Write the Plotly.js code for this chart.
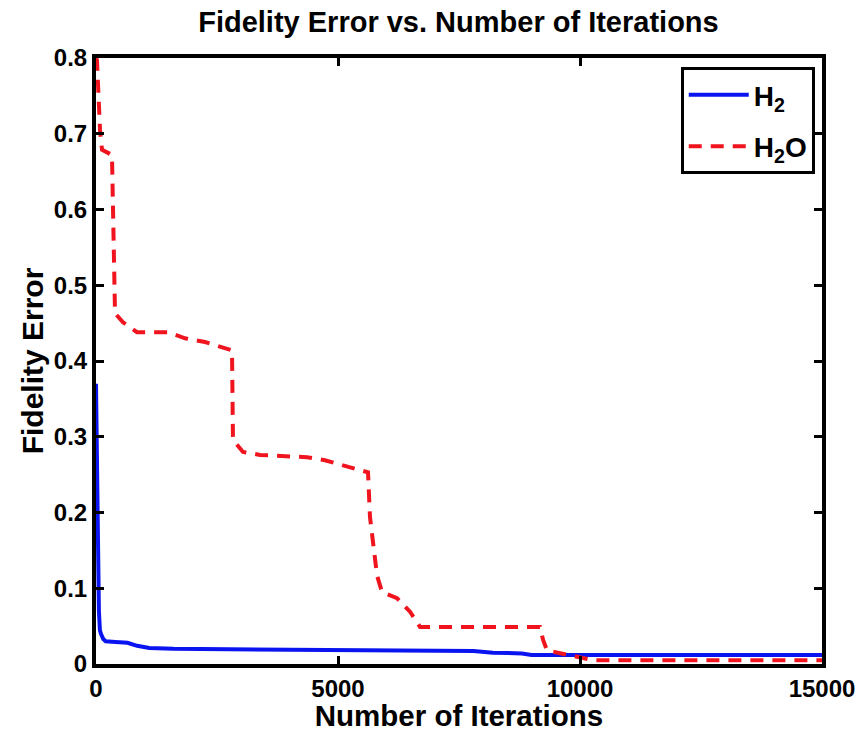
<!DOCTYPE html>
<html>
<head>
<meta charset="utf-8">
<script src="https://cdn.plot.ly/plotly-3.0.1.min.js"></script>
<style>html,body{margin:0;padding:0;background:#fff;}#chart{width:865px;height:732px;}</style>
</head>
<body>
<div id="chart"></div>
<script>
// H2 series
const h2Iter = [0, 20, 40, 60, 80, 100, 150, 200, 400, 650, 850, 1100, 1600, 3500, 6000, 7800, 8200, 8800, 9000, 10200, 15000];
const h2Err  = [0.37, 0.25, 0.13, 0.07, 0.045, 0.04, 0.033, 0.03, 0.029, 0.028, 0.024, 0.021, 0.02, 0.019, 0.017, 0.017, 0.015, 0.014, 0.012, 0.012, 0.012];
// H2O series
const h2oIter = [0, 20, 83, 124, 330, 393, 558, 847, 1488, 1839, 2252, 2707, 2810, 2830, 3037, 3388, 4360, 4731, 5083, 5496, 5620, 5661, 5723, 5806, 5909, 6219, 6488, 6694, 9174, 9236, 9318, 9793, 10165, 10269, 15000];
const h2oErr  = [0.8, 0.797, 0.705, 0.679, 0.672, 0.463, 0.451, 0.438, 0.438, 0.43, 0.425, 0.417, 0.414, 0.296, 0.28, 0.276, 0.273, 0.269, 0.263, 0.256, 0.253, 0.194, 0.157, 0.117, 0.095, 0.087, 0.069, 0.049, 0.049, 0.032, 0.018, 0.012, 0.007, 0.005, 0.005];
const xTicks = [0, 5000, 10000, 15000];
const yTicks = [0, 0.1, 0.2, 0.3, 0.4, 0.5, 0.6, 0.7, 0.8];
const yTickText = ['0', '0.1', '0.2', '0.3', '0.4', '0.5', '0.6', '0.7', '0.8'];

const FONT = 'Liberation Sans, Arial, sans-serif';

const traces = [
  {x: h2Iter, y: h2Err, name: 'H<sub>2</sub>', mode: 'lines', type: 'scatter', legendgroup: 'a',
   line: {color: '#0a14f0', width: 4}},
  {x: h2oIter, y: h2oErr, name: 'H<sub>2</sub>O', mode: 'lines', type: 'scatter', legendgroup: 'b',
   line: {color: '#f0141e', width: 4, dash: '13px,9px'}}
];

const axisCommon = {
  showline: true, linecolor: '#000', linewidth: 4, mirror: 'ticks',
  ticks: 'inside', ticklen: 8, tickwidth: 3, tickcolor: '#000',
  showgrid: false, zeroline: false,
  tickfont: {family: FONT, size: 24, color: '#000', weight: 'bold'}
};

const layout = {
  width: 865, height: 732,
  margin: {l: 96, r: 43, t: 58, b: 68},
  paper_bgcolor: '#fff', plot_bgcolor: '#fff',
  title: {text: 'Fidelity Error vs. Number of Iterations', x: 0.53, xanchor: 'center', y: 0.97, yanchor: 'middle',
          font: {family: FONT, size: 29, color: '#000', weight: 'bold'}},
  xaxis: Object.assign({}, axisCommon, {
    range: [0, 15000], tickvals: xTicks, ticktext: xTicks.map(String),
    title: {text: 'Number of Iterations', standoff: 0, font: {family: FONT, size: 29.5, color: '#000', weight: 'bold'}}
  }),
  yaxis: Object.assign({}, axisCommon, {
    range: [0, 0.8], tickvals: yTicks, ticktext: yTickText,
    title: {text: 'Fidelity Error', standoff: 2, font: {family: FONT, size: 30, color: '#000', weight: 'bold'}}
  }),
  showlegend: true,
  legend: {x: 0.99, xanchor: 'right', y: 0.985, yanchor: 'top',
           traceorder: 'grouped', tracegroupgap: 12,
           bgcolor: '#fff', bordercolor: '#000', borderwidth: 3,
           itemwidth: 60,
           font: {family: FONT, size: 28, color: '#000', weight: 'bold'}}
};

Plotly.newPlot('chart', traces, layout, {displayModeBar: false, staticPlot: true});
</script>
</body>
</html>
